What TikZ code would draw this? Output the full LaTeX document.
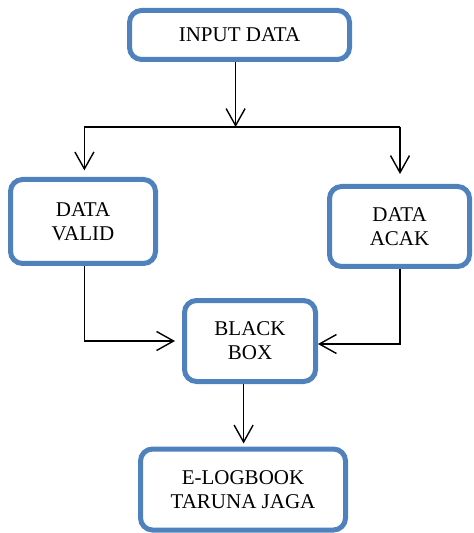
\documentclass[tikz,border=0pt]{standalone}
\usepackage{fontspec}
\setmainfont{Liberation Serif}
\usetikzlibrary{positioning, arrows.meta}
\definecolor{boxblue}{RGB}{79,129,189}

\begin{document}
\begin{tikzpicture}[
        node distance=60pt,
        every node/.style={
            rectangle,
            rounded corners=6pt,
            minimum height=40.5pt,
            align=center,
            draw=boxblue,
            line width=2.5pt,
            fill=white,
            font=\fontsize{10.5}{12}\selectfont
        },
        arrow/.style={line width=0.7pt,-{Straight Barb[length=8.5pt,width=9.5pt]}}
    ]
    \useasboundingbox (0,0) rectangle (236.5pt,-266.5pt);

    % Top
    \node (input) [minimum width=110pt, minimum height=24.5pt] at (119.75pt,-17.5pt) {INPUT DATA};

    % Middle Row
    \node (valid) [below of=input, xshift=-78.25pt, yshift=-33.25pt, minimum width=72.5pt, minimum height=42pt] {DATA\\VALID};
    \node (acak) [right of=valid, xshift=98.25pt, yshift=-2.5pt, minimum width=70pt, minimum height=40pt] {DATA\\ACAK};

    % Bottom
    \node (black) [below of=valid, xshift=83.5pt, yshift=0.25pt, minimum width=65.5pt] {BLACK\\BOX};
    \node (elog) [below of=black, xshift=-3.5pt, yshift=-14.25pt, minimum width=102.5pt] {E-LOGBOOK\\TARUNA JAGA};

    % Split
    \coordinate (split) at (117.8pt,-63.5pt);
    \coordinate (left) at (42.2pt,-63.5pt);
    \coordinate (right) at (200pt,-63.5pt);

    % Arrows
    \draw [arrow] (input.south -| split) -- (split);
    \draw [line width=0.7pt] (left) -- (right);
    \draw [arrow, shorten >=3.3pt] (left) -- (valid.north -| left);
    \draw [arrow, shorten >=5pt] (right) -- (acak.north -| right);
    \draw [arrow, shorten >=3.5pt] (valid.south -| left) |- (black.west);
    \draw [arrow] (acak.south -| right) |- ([yshift=-1.5pt]black.east);
    \draw [arrow, shorten >=1.5pt] ([xshift=-3.2pt]black.south) -- ([xshift=-3.2pt]black.south |- elog.north);

\end{tikzpicture}
\end{document}
